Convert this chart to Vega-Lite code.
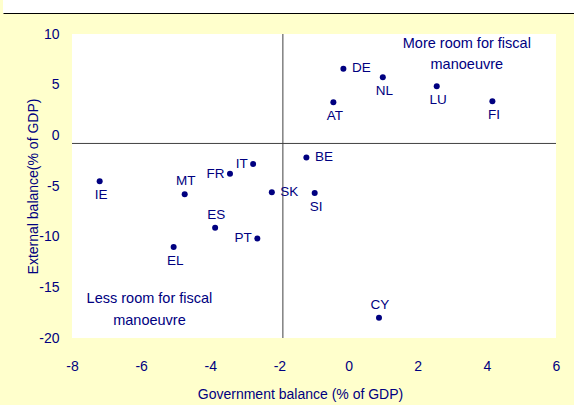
{
  "$schema": "https://vega.github.io/schema/vega-lite/v6.json",
  "background": "#FFFFCC",
  "padding": {"left": 0, "top": 0, "right": 0, "bottom": 12},
  "config": {
    "view": {"stroke": null},
    "font": "Liberation Sans",
    "axis": {"labelFont": "Liberation Sans", "titleFont": "Liberation Sans"}
  },
  "datasets": {
    "countries": [
      {"c": "IE", "gov": -7.2, "ext": -4.54},
      {"c": "MT", "gov": -4.74, "ext": -5.82},
      {"c": "FR", "gov": -3.43, "ext": -3.78},
      {"c": "IT", "gov": -2.76, "ext": -2.83},
      {"c": "SK", "gov": -2.22, "ext": -5.62},
      {"c": "BE", "gov": -1.22, "ext": -2.18},
      {"c": "SI", "gov": -0.98, "ext": -5.69},
      {"c": "DE", "gov": -0.15, "ext": 6.56},
      {"c": "NL", "gov": 0.99, "ext": 5.73},
      {"c": "AT", "gov": -0.44, "ext": 3.27},
      {"c": "LU", "gov": 2.55, "ext": 4.84},
      {"c": "FI", "gov": 4.16, "ext": 3.37},
      {"c": "ES", "gov": -3.86, "ext": -9.13},
      {"c": "PT", "gov": -2.64, "ext": -10.18},
      {"c": "EL", "gov": -5.06, "ext": -11.03},
      {"c": "CY", "gov": 0.88, "ext": -17.99}
    ],
    "guides": [{"gov": -1.9, "ext": -0.8}],
    "notes": [
      {"gov": 3.42, "ext": 8.58, "note": "More room for fiscal"},
      {"gov": 3.42, "ext": 6.56, "note": "manoeuvre"},
      {"gov": -5.76, "ext": -16.57, "note": "Less room for fiscal"},
      {"gov": -5.76, "ext": -18.71, "note": "manoeuvre"}
    ]
  },
  "bounds": "flush",
  "spacing": 21,
  "resolve": {"scale": {"x": "independent", "y": "independent"}},
  "vconcat": [
    {
      "width": 574,
      "height": 13,
      "view": {"fill": "#ffffff", "stroke": null},
      "data": {"name": "guides"},
      "mark": {"type": "point", "opacity": 0},
      "encoding": {
        "x": {
          "datum": 0,
          "type": "quantitative",
          "scale": {"domain": [0, 1]},
          "axis": {"domain": true, "domainColor": "#000000", "domainWidth": 1.2, "ticks": false, "labels": false, "grid": false, "title": null}
        }
      }
    },
    {
      "bounds": "flush",
      "spacing": 0,
      "resolve": {"scale": {"x": "independent", "y": "independent"}},
      "hconcat": [
        {
          "width": 69,
          "height": 304,
          "data": {"name": "guides"},
          "mark": {"type": "point", "opacity": 0},
          "encoding": {}
        },
        {
          "width": 484,
          "height": 304,
          "view": {"fill": "#ffffff", "stroke": null},
          "encoding": {
            "x": {
              "field": "gov",
              "type": "quantitative",
              "scale": {"domain": [-8, 6], "nice": false, "zero": false},
              "axis": {
                "values": [-8, -6, -4, -2, 0, 2, 4, 6],
                "labelExpr": "replace(datum.label, '\u2212', '-')",
                "labelFlush": false,
                "domain": false, "ticks": false, "tickSize": 0, "grid": false,
                "labelPadding": 21, "labelFontSize": 14, "labelColor": "#000080",
                "title": "Government balance (% of GDP)",
                "titleFontSize": 14, "titleFontWeight": "normal", "titleColor": "#000080",
                "titleX": 228, "titleY": 60, "titleBaseline": "alphabetic", "titleAlign": "center"
              }
            },
            "y": {
              "field": "ext",
              "type": "quantitative",
              "scale": {"domain": [-20, 10], "nice": false, "zero": false},
              "axis": {
                "values": [-20, -15, -10, -5, 0, 5, 10],
                "labelExpr": "replace(datum.label, '\u2212', '-')",
                "labelFlush": false,
                "domain": false, "ticks": false, "tickSize": 0, "grid": false,
                "labelPadding": 13, "labelFontSize": 14, "labelColor": "#000080",
                "title": "External balance(% of GDP)",
                "titleFontSize": 14, "titleFontWeight": "normal", "titleColor": "#000080",
                "titleX": -35, "titleY": 152, "titleBaseline": "alphabetic", "titleAlign": "center", "titleAngle": -90
              }
            }
          },
          "layer": [
            {
              "data": {"name": "guides"},
              "mark": {"type": "rule", "color": "#404040", "strokeWidth": 1},
              "encoding": {"x": {"field": "gov", "type": "quantitative"}, "y": null}
            },
            {
              "data": {"name": "guides"},
              "mark": {"type": "rule", "color": "#404040", "strokeWidth": 1},
              "encoding": {"y": {"field": "ext", "type": "quantitative"}, "x": null}
            },
            {
              "data": {"name": "countries"},
              "mark": {"type": "circle", "size": 36, "color": "#000080", "opacity": 1}
            },
            {
              "data": {"name": "countries"},
              "transform": [{"filter": {"field": "c", "oneOf": ["IE", "SI", "NL", "AT", "LU", "FI", "EL"]}}],
              "mark": {"type": "text", "align": "center", "baseline": "alphabetic", "dx": 1.5, "dy": 18, "fontSize": 13.5, "color": "#000080"},
              "encoding": {"text": {"field": "c"}}
            },
            {
              "data": {"name": "countries"},
              "transform": [{"filter": {"field": "c", "oneOf": ["MT", "ES", "CY"]}}],
              "mark": {"type": "text", "align": "center", "baseline": "alphabetic", "dx": 1, "dy": -9, "fontSize": 13.5, "color": "#000080"},
              "encoding": {"text": {"field": "c"}}
            },
            {
              "data": {"name": "countries"},
              "transform": [{"filter": {"field": "c", "oneOf": ["FR", "IT", "PT"]}}],
              "mark": {"type": "text", "align": "right", "baseline": "alphabetic", "dx": -5.5, "dy": 4, "fontSize": 13.5, "color": "#000080"},
              "encoding": {"text": {"field": "c"}}
            },
            {
              "data": {"name": "countries"},
              "transform": [{"filter": {"field": "c", "oneOf": ["SK", "BE", "DE"]}}],
              "mark": {"type": "text", "align": "left", "baseline": "alphabetic", "dx": 8.5, "dy": 3.5, "fontSize": 13.5, "color": "#000080"},
              "encoding": {"text": {"field": "c"}}
            },
            {
              "data": {"name": "notes"},
              "mark": {"type": "text", "align": "center", "baseline": "alphabetic", "fontSize": 14.5, "color": "#000080"},
              "encoding": {"text": {"field": "note"}}
            }
          ]
        }
      ]
    }
  ]
}
